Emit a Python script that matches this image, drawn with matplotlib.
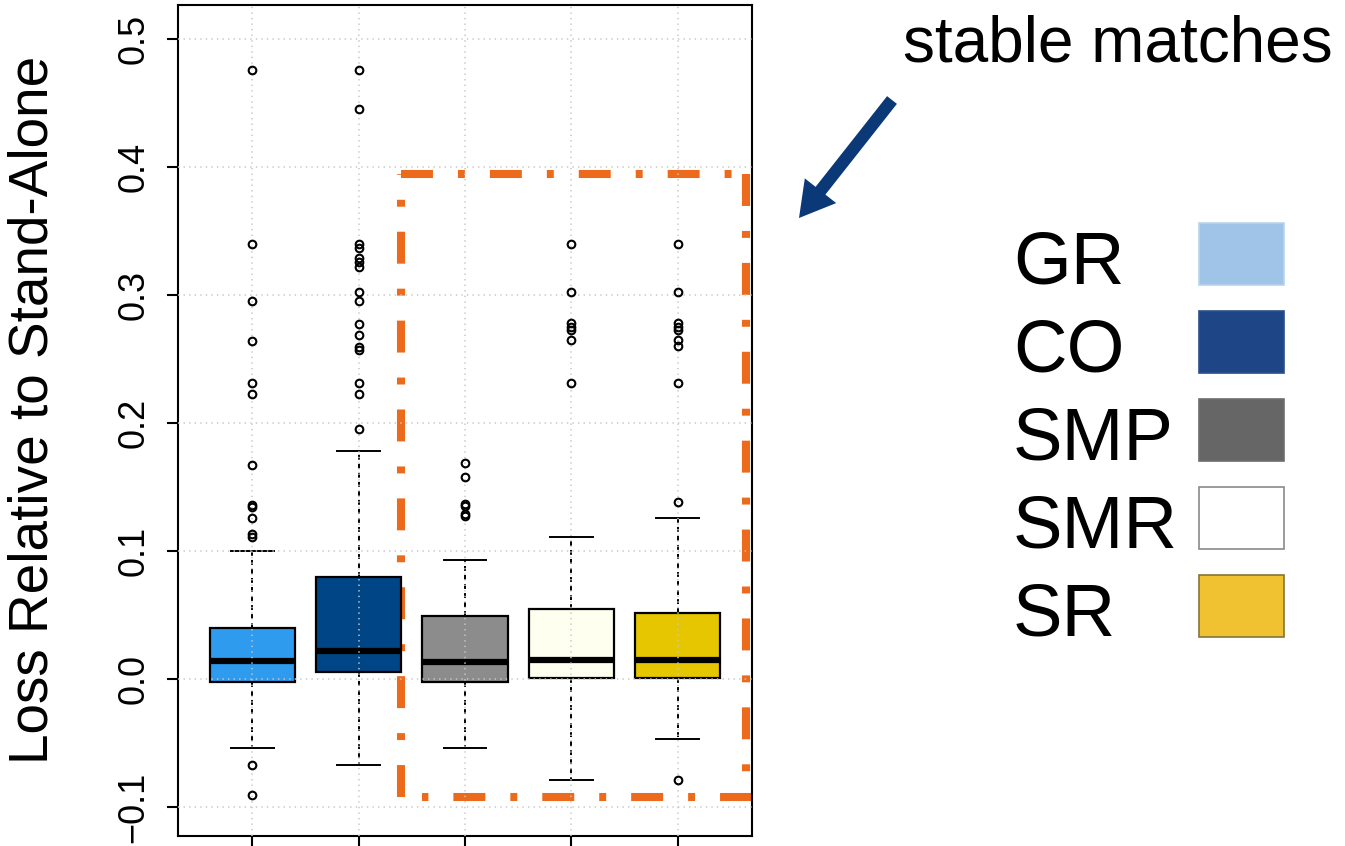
import matplotlib
matplotlib.use("Agg")
import matplotlib.pyplot as plt
from matplotlib.patches import Rectangle

plt.rcParams['font.family'] = ['Liberation Sans', 'DejaVu Sans']
plt.rcParams['lines.scale_dashes'] = False

# box statistics
groups = ['GR', 'CO', 'SMP', 'SMR', 'SR']
q1 = [-0.002, 0.0055, -0.002, 0.001, 0.001]
med = [0.014, 0.0215, 0.013, 0.015, 0.015]
q3 = [0.040, 0.080, 0.049, 0.055, 0.0515]
whislo = [-0.054, -0.067, -0.054, -0.079, -0.047]
whishi = [0.100, 0.178, 0.093, 0.111, 0.126]
fliers_gr = [0.476, 0.340, 0.295, 0.264, 0.231, 0.223, 0.167, 0.136, 0.134,
             0.126, 0.113, 0.111, -0.067, -0.091]
fliers_co = [0.476, 0.445, 0.340, 0.337, 0.329, 0.326, 0.322, 0.302, 0.295,
             0.277, 0.269, 0.259, 0.257, 0.231, 0.223, 0.195]
fliers_smp = [0.169, 0.158, 0.137, 0.135, 0.129, 0.127]
fliers_smr = [0.340, 0.302, 0.278, 0.275, 0.273, 0.265, 0.231]
fliers_sr = [0.340, 0.302, 0.278, 0.275, 0.273, 0.265, 0.260, 0.231, 0.138,
             -0.079]
fliers = [fliers_gr, fliers_co, fliers_smp, fliers_smr, fliers_sr]

box_colors = ['#2E9BEF', '#004585', '#8C8C8C', '#FFFFF0', '#E5C600']
legend_colors = ['#A0C4E8', '#1E4586', '#666666', '#FFFFFF', '#F0C232']
legend_edges = ['#B8D4EE', '#2A4F8C', '#6E6E6E', '#8A8A8A', '#857535']

# highlighted region (stable matches)
hl_x = [2.40, 5.648]
hl_y = [-0.092, 0.3945]

W, H = 1345, 846
fig = plt.figure(figsize=(W / 100, H / 100), dpi=100)
ax = fig.add_axes([178 / W, 1 - 836 / H, 574 / W, 831 / H])

stats = []
for i in range(len(groups)):
    stats.append(dict(label=groups[i], q1=q1[i], med=med[i], q3=q3[i],
                      whislo=whislo[i], whishi=whishi[i], fliers=fliers[i]))

pos = list(range(1, len(groups) + 1))
bp = ax.bxp(stats, positions=pos, widths=0.8, patch_artist=True,
            boxprops=dict(linewidth=1.6, edgecolor='black'),
            medianprops=dict(color='black', linewidth=4.5, solid_capstyle='butt'),
            whiskerprops=dict(color='black', linewidth=1.4, linestyle=(0, (3.5, 3))),
            capprops=dict(color='black', linewidth=1.4),
            flierprops=dict(marker='o', markersize=5.5, markerfacecolor='none',
                            markeredgecolor='black', markeredgewidth=1.5, zorder=3))
for patch, c in zip(bp['boxes'], box_colors):
    patch.set_facecolor(c)

ax.set_xlim(0.3, 5.7)
ax.set_ylim(-0.1227, 0.5266)
ax.set_yticks([-0.1, 0.0, 0.1, 0.2, 0.3, 0.4, 0.5])
ax.set_yticklabels(['\u22120.1', '0.0', '0.1', '0.2', '0.3', '0.4', '0.5'],
                   rotation=90, va='center')
ax.set_xticks(pos)
ax.set_xticklabels([])
ax.tick_params(axis='y', length=8, width=1.5, pad=11, labelsize=26)
ax.tick_params(axis='x', length=8, width=1.5)
for s in ax.spines.values():
    s.set_linewidth(1.5)

ax.grid(True, linestyle=(0, (1, 3)), color='#C8C8C8', linewidth=1.1)
ax.set_axisbelow(False)

# dash-dot rectangle
orange = '#EC6A1C'
dash = (0, (23, 18, 5, 18))
kw = dict(color=orange, lw=5.8, linestyle=dash, zorder=1.5, clip_on=False,
          dash_capstyle='butt')
ax.plot([hl_x[0], hl_x[0]], [hl_y[0], hl_y[1]], **kw)
ax.plot([hl_x[0], hl_x[1]], [hl_y[1], hl_y[1]], **kw)
ax.plot([hl_x[1], hl_x[1]], [hl_y[1], hl_y[0]], **kw)
ax.plot([5.7, hl_x[0] + 0.2], [hl_y[0], hl_y[0]], **kw)

fig.text(34 / W, 0.515, 'Loss Relative to Stand-Alone', rotation=90,
         ha='center', va='center', fontsize=39.5)

fig.text(903 / W, 1 - 62 / H, 'stable matches', fontsize=46,
         ha='left', va='baseline')
fig.add_artist(plt.Annotation('', xy=(799 / W, 1 - 218 / H),
                              xytext=(892 / W, 1 - 100 / H),
                              xycoords='figure fraction',
                              textcoords='figure fraction',
                              arrowprops=dict(arrowstyle='simple,head_length=1.0,head_width=1.15,tail_width=0.36',
                                              mutation_scale=25, lw=0,
                                              color='#0B3877', shrinkA=0, shrinkB=0)))

# legend: label on the left, colour swatch on the right
for i, lab in enumerate(groups):
    yb = 283 + 88 * i
    fig.text(1013 / W, 1 - yb / H, lab, fontsize=53.5, ha='left', va='baseline')
    fig.add_artist(Rectangle((1199 / W, 1 - (yb + 2) / H), 85 / W, 62 / H,
                             transform=fig.transFigure, facecolor=legend_colors[i],
                             edgecolor=legend_edges[i], linewidth=1.2))

fig.savefig('out.png', dpi=100)
